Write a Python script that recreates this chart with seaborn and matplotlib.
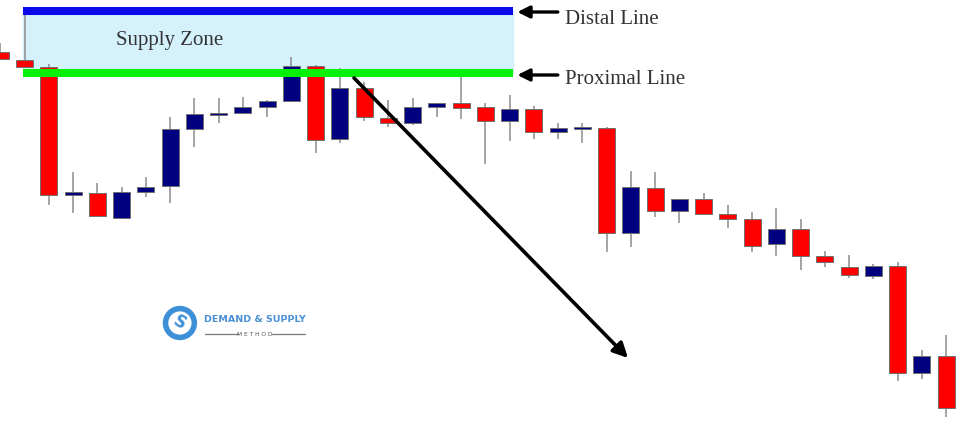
#Importing required libraries
import numpy as np
import pandas as pd
import matplotlib.pyplot as plt
import seaborn as sns

#Candle data (price points)
opens  = [386, 378, 371, 243, 245, 220, 246, 252, 309, 323, 325, 331, 337, 372, 299, 350, 320, 315, 331, 335,
          331, 317, 329, 306, 309, 310, 205, 250, 227, 239, 224, 219, 194, 209, 182, 171, 162, 172, 65, 82]
highs  = [395, 423, 374, 266, 255, 251, 261, 321, 340, 340, 341, 338, 381, 373, 370, 356, 338, 340, 335, 361,
          335, 343, 332, 315, 315, 311, 267, 266, 239, 245, 233, 226, 230, 219, 187, 183, 174, 176, 88, 103]
lows   = [379, 371, 233, 225, 222, 219, 241, 235, 291, 315, 325, 321, 337, 285, 295, 317, 311, 313, 321, 319,
          274, 297, 299, 299, 295, 186, 191, 221, 215, 224, 210, 186, 182, 168, 171, 160, 159, 57, 59, 21]
closes = [379, 371, 243, 246, 222, 246, 251, 309, 324, 325, 331, 337, 372, 298, 350, 321, 315, 331, 335, 330,
          317, 329, 306, 310, 311, 205, 251, 227, 239, 224, 219, 192, 209, 182, 176, 163, 172, 65, 82, 30]

#Supply zone levels
distal_price = 427
proximal_price = 365
zone_start = 0.93
zone_end = 21.13

candles = pd.DataFrame({'open': opens, 'high': highs, 'low': lows, 'close': closes})
candles['idx'] = np.arange(len(candles))
candles['bull'] = candles['close'] >= candles['open']

sns.set_style("white")
plt.rcParams['font.family'] = ['Liberation Serif', 'DejaVu Serif']

fig = plt.figure(figsize=(9.75, 4.38), dpi=100)
ax = fig.add_axes([0, 0, 1, 1])
ax.set_xlim(-0.02, 40.19)
ax.set_ylim(0, 438)
ax.axis('off')

#Supply zone box and lines
xs = np.array([zone_start, zone_end])
ax.fill_between(xs, proximal_price, distal_price, color='#d5f1fc', zorder=1)
ax.plot(xs, [distal_price, distal_price], color='#0a0ae8', lw=5.8, solid_capstyle='butt', zorder=4)
ax.plot(xs, [proximal_price, proximal_price], color='#08f008', lw=5.8, solid_capstyle='butt', zorder=4)

#Wicks
ax.vlines(candles['idx'], candles['low'], candles['high'], color='#8c8c8c', lw=1.1, zorder=2)

#Bodies
colors = np.where(candles['bull'], '#000080', '#ff0000')
bottoms = candles[['open', 'close']].min(axis=1)
heights = (candles['open'] - candles['close']).abs().clip(lower=2.5)
ax.bar(candles['idx'], heights, bottom=bottoms, width=0.7, color=colors,
       edgecolor='#707070', linewidth=0.7, zorder=3)

#Text labels
ax.text(6.99, 398, 'Supply Zone', fontsize=15, color='#333333', ha='center', va='center', zorder=5)
ax.text(23.3, 419, 'Distal Line', fontsize=15, color='#333333', ha='left', va='center')
ax.text(23.3, 358, 'Proximal Line', fontsize=15, color='#333333', ha='left', va='center')

#Small arrows pointing at lines
for yy in [426, 363]:
    ax.annotate('', xy=(21.2, yy), xytext=(23.1, yy),
                arrowprops=dict(arrowstyle='-|>', color='black', lw=2.4, mutation_scale=18))

#Big arrow
ax.annotate('', xy=(25.96, 78), xytext=(14.5, 362),
            arrowprops=dict(arrowstyle='-|>', color='black', lw=2.6, mutation_scale=22), zorder=6)

#Logo
ax.scatter([7.4], [115], s=430, facecolor='none', edgecolor='#3d8fd8', linewidth=4, zorder=5)
ax.text(7.4, 115, 'S', fontsize=12, fontweight='bold', color='#3d8fd8', ha='center', va='center',
        rotation=-30, family='DejaVu Sans')
ax.text(8.39, 118, 'DEMAND & SUPPLY', fontsize=6.8, fontweight='bold', color='#4a90d6',
        ha='left', va='center', family='DejaVu Sans')
ax.text(10.49, 104, 'M E T H O D', fontsize=4.2, color='#555555', ha='center', va='center', family='DejaVu Sans')
ax.plot([8.43, 9.8], [104, 104], color='#777777', lw=0.9)
ax.plot([11.2, 12.56], [104, 104], color='#777777', lw=0.9)

fig.savefig('out.png', dpi=100)
